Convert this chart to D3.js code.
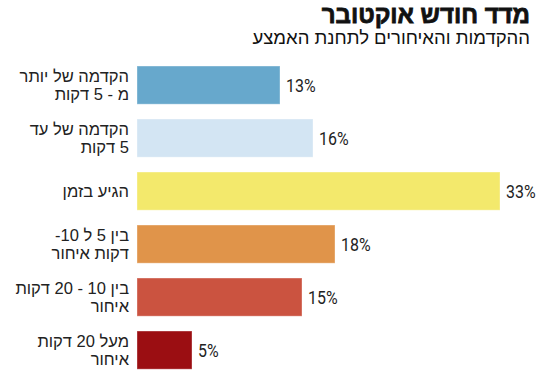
<!DOCTYPE html>
<html lang="he">
<head>
<meta charset="utf-8">
<script src="https://cdn.jsdelivr.net/npm/d3@7"></script>
<style>
  body { margin: 0; background: #fff; }
  svg { display: block; }
</style>
</head>
<body>
<div id="chart"></div>
<script>
// נתוני התרשים
const categories = [
  ["הקדמה של יותר", "מ - 5 דקות"],
  ["הקדמה של עד", "5 דקות"],
  ["הגיע בזמן"],
  ["בין 5 ל 10-", "דקות איחור"],
  ["בין 10 - 20 דקות", "איחור"],
  ["מעל 20 דקות", "איחור"]
];
const values = [13, 16, 33, 18, 15, 5];
const colors = ["#67a8cc", "#d3e5f3", "#f3e96c", "#e0944a", "#cb5340", "#9b0e12"];

const title = "מדד חודש אוקטובר";
const subtitle = "ההקדמות והאיחורים לתחנת האמצע";

const width = 550, height = 377;

const svg = d3.select("#chart")
  .append("svg")
  .attr("width", width)
  .attr("height", height);

// כותרות
svg.append("text")
  .attr("x", 530).attr("y", 23)
  .attr("direction", "rtl")
  .attr("text-anchor", "start")
  .style("font-family", "'Liberation Sans', sans-serif")
  .style("font-weight", "bold")
  .style("font-size", "24px")
  .attr("fill", "#111")
  .attr("stroke", "#111")
  .attr("stroke-width", 0.8)
  .text(title);

svg.append("text")
  .attr("x", 530).attr("y", 44)
  .attr("direction", "rtl")
  .attr("text-anchor", "start")
  .style("font-family", "'Liberation Sans', sans-serif")
  .style("font-size", "18.5px")
  .attr("fill", "#111")
  .text(subtitle);

// סקאלות
const x = d3.scaleLinear()
  .domain([0, 33])
  .range([137, 500]);

const y = d3.scaleBand()
  .domain(d3.range(values.length))
  .range([58.6, 376.6])
  .paddingInner(0.28)
  .paddingOuter(0.14);

// עמודות
svg.selectAll("rect.bar")
  .data(values)
  .join("rect")
  .attr("class", "bar")
  .attr("x", x(0))
  .attr("y", (d, i) => y(i))
  .attr("width", d => x(d) - x(0))
  .attr("height", y.bandwidth())
  .attr("fill", (d, i) => colors[i])
  .attr("stroke", "rgba(255,255,255,0.35)")
  .attr("stroke-width", 1);

// ערכים - גופן צר
svg.selectAll("text.val")
  .data(values)
  .join("text")
  .attr("class", "val")
  .attr("transform", (d, i) => `translate(${x(d) + 6},${y(i) + y.bandwidth() / 2}) scale(0.84,1)`)
  .attr("dy", "0.36em")
  .style("font-family", "Roboto, sans-serif")
  .style("font-size", "19px")
  .attr("fill", "#222")
  .text(d => d + "%");

// תוויות קטגוריות
const lab = svg.selectAll("text.cat")
  .data(categories)
  .join("text")
  .attr("class", "cat")
  .attr("direction", "rtl")
  .attr("text-anchor", "start")
  .style("font-family", "'Liberation Sans', sans-serif")
  .style("font-size", "16.5px")
  .attr("fill", "#222")
  .attr("transform", (d, i) => `translate(129,${y(i) + y.bandwidth() / 2})`);

lab.selectAll("tspan")
  .data(d => d.map((t, j) => ({ t, j, n: d.length })))
  .join("tspan")
  .attr("x", 0)
  .attr("y", d => (d.j - (d.n - 1) / 2) * 18)
  .attr("dy", "0.36em")
  .text(d => d.t);
</script>
</body>
</html>
